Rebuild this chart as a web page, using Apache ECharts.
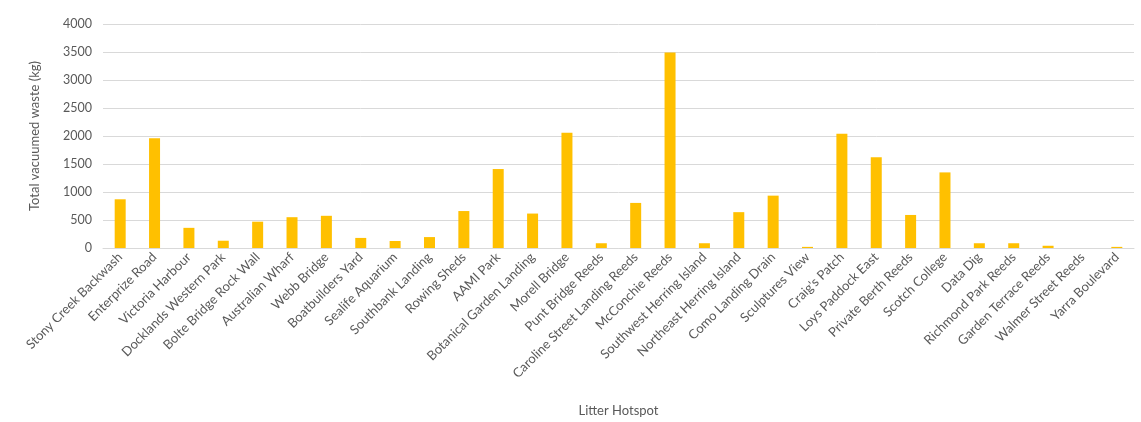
<!DOCTYPE html>
<html>
<head>
<meta charset="utf-8">
<script src="https://cdn.jsdelivr.net/npm/echarts@6/dist/echarts.min.js"></script>
<style>
  html, body { margin: 0; padding: 0; background: #fff; }
  #chart { width: 1141px; height: 422px; }
</style>
</head>
<body>
<div id="chart"></div>
<script>
// Litter hotspots along the river and their total vacuumed waste
const hotspots = [
  'Stony Creek Backwash', 'Enterprize Road', 'Victoria Harbour', 'Docklands Western Park',
  'Bolte Bridge Rock Wall', 'Australian Wharf', 'Webb Bridge', 'Boatbuilders Yard',
  'Sealife Aquarium', 'Southbank Landing', 'Rowing Sheds', 'AAMI Park',
  'Botanical Garden Landing', 'Morell Bridge', 'Punt Bridge Reeds', 'Caroline Street Landing Reeds',
  'McConchie Reeds', 'Southwest Herring Island', 'Northeast Herring Island', 'Como Landing Drain',
  'Sculptures View', "Craig's Patch", 'Loys Paddock East', 'Private Berth Reeds',
  'Scotch College', 'Data Dig', 'Richmond Park Reeds', 'Garden Terrace Reeds',
  'Walmer Street Reeds', 'Yarra Boulevard'
];

const wasteKg = [
  870, 1960, 360, 130,
  470, 550, 575, 180,
  125, 195, 660, 1410,
  615, 2060, 85, 805,
  3490, 85, 640, 935,
  20, 2040, 1620, 590,
  1350, 85, 85, 40,
  0, 20
];

const yTicks = { min: 0, max: 4000, interval: 500 };

const font = 'Lato, "Open Sans", sans-serif';
const textGrey = '#595959';

const chart = echarts.init(document.getElementById('chart'), null, { renderer: 'canvas' });
chart.setOption({
  animation: false,
  grid: { left: 103, right: 7, top: 24, bottom: 171, containLabel: false },
  xAxis: {
    type: 'category',
    data: hotspots,
    name: 'Litter Hotspot',
    nameLocation: 'middle',
    nameGap: 156,
    nameTextStyle: { color: textGrey, fontFamily: font, fontSize: 13 },
    axisLine: { show: true, lineStyle: { color: '#d9d9d9', width: 1 } },
    axisTick: { show: false },
    axisLabel: {
      interval: 0,
      rotate: 45,
      color: textGrey,
      fontFamily: font,
      fontSize: 13,
      margin: 7
    }
  },
  yAxis: {
    type: 'value',
    min: yTicks.min,
    max: yTicks.max,
    interval: yTicks.interval,
    name: 'Total vacuumed waste (kg)',
    nameLocation: 'middle',
    nameGap: 62,
    nameTextStyle: { color: textGrey, fontFamily: font, fontSize: 13 },
    axisLine: { show: false },
    axisTick: { show: false },
    axisLabel: {
      color: textGrey, fontFamily: font, fontSize: 12.5, margin: 11,
      formatter: (v) => String(v)
    },
    splitLine: { lineStyle: { color: '#d9d9d9', width: 1 } }
  },
  series: [{
    type: 'bar',
    data: wasteKg,
    barWidth: 11,
    itemStyle: { color: '#ffc000' }
  }]
});
</script>
</body>
</html>
